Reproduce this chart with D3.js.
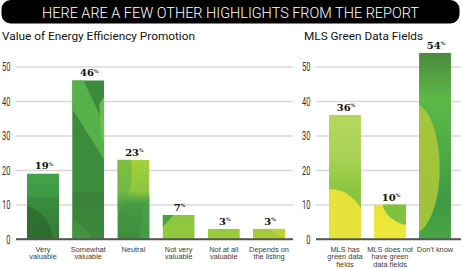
<!DOCTYPE html>
<html><head><meta charset="utf-8">
<script src="https://cdn.jsdelivr.net/npm/d3@7"></script>
<style>
html,body{margin:0;padding:0;background:#fff;}
svg{display:block;}
</style></head>
<body>
<svg id="c" width="461" height="269"></svg>
<script>
// ---- data ----
const bannerText = "HERE ARE A FEW OTHER HIGHLIGHTS FROM THE REPORT";
const leftTitle = "Value of Energy Efficiency Promotion";
const rightTitle = "MLS Green Data Fields";
const leftCategories = ["Very\nvaluable", "Somewhat\nvaluable", "Neutral", "Not very\nvaluable", "Not at all\nvaluable", "Depends on\nthe listing"];
const leftValues = [19, 46, 23, 7, 3, 3];
const rightCategories = ["MLS has\ngreen data\nfields", "MLS does not\nhave green\ndata fields", "Don't know"];
const rightValues = [36, 10, 54];
const yTicks = [0, 10, 20, 30, 40, 50];

// ---- bar styling (relative decoration, not data) ----
const leftStyles = [
  {stops:[["0%","#44a24a"],["35%","#3f9944"],["36%","#3b8c3e"],["100%","#347c37"]],
   shapes:[{t:"ellipse",cx:-0.1,cy:1.05,rx:0.9,ry:0.55,c:"#2c6a2f",o:0.75}]},
  {stops:[["0%","#3c8a3d"],["50%","#3a8e3c"],["70%","#3b8f3d"],["71%","#3a8039"],["100%","#3b8a3c"]],
   shapes:[{t:"poly",p:[[0,0],[0.35,0],[1,0.28],[1,0.5],[0,0.18]],c:"#5cb84a",o:0.85},
           {t:"poly",p:[[0.85,0.15],[1,0.1],[1,0.4],[0.9,0.35]],c:"#6cc24b",o:0.9},
           {t:"ellipse",cx:-0.2,cy:1.1,rx:0.9,ry:0.22,c:"#4a9a45",o:0.6}]},
  {stops:[["0%","#a6d03b"],["40%","#8cc53f"],["55%","#479b42"],["100%","#3d8e3e"]],
   shapes:[{t:"ellipse",cx:-0.1,cy:0.15,rx:0.55,ry:0.5,c:"#5aac45",o:0.5},
           {t:"ellipse",cx:1.1,cy:1.0,rx:0.4,ry:0.55,c:"#46a24a",o:0.7}]},
  {stops:[["0%","#8cc63f"],["100%","#93c83d"]],
   shapes:[{t:"poly",p:[[0,0],[0.35,0],[0,0.5]],c:"#3f9d45",o:0.9}]},
  {stops:[["0%","#9bcb3c"],["100%","#9bcb3c"]], shapes:[]},
  {stops:[["0%","#a5c93a"],["100%","#a9cb38"]],
   shapes:[{t:"poly",p:[[0.5,0],[1,0],[1,1]],c:"#bfd631",o:0.8}]}
];
const rightStyles = [
  {stops:[["0%","#b6d75f"],["35%","#a8d255"],["60%","#8cc63f"],["100%","#8cc63f"]],
   shapes:[{t:"ellipse",cx:0.1,cy:1.35,rx:1.5,ry:0.75,c:"#e6e33b",o:1}]},
  {stops:[["0%","#e9e43a"],["100%","#eee83a"]],
   shapes:[{t:"ellipse",cx:1.15,cy:-0.15,rx:0.9,ry:0.75,c:"#7fc242",o:1}]},
  {stops:[["0%","#4a8a3c"],["25%","#5db847"],["55%","#4caa44"],["80%","#3e9a44"],["100%","#4aa744"]],
   shapes:[{t:"ellipse",cx:-0.2,cy:0.62,rx:0.85,ry:0.35,c:"#b2c93a",o:0.85},
           {t:"ellipse",cx:0.0,cy:1.05,rx:0.25,ry:0.04,c:"#e4e23a",o:1}]}
];

// ---- layout ----
const svg = d3.select("#c");
const defs = svg.append("defs");
const y = d3.scaleLinear().domain([0, 50]).range([239, 66.5]);

// banner
svg.append("rect").attr("x",1.5).attr("y",0).attr("width",458).attr("height",23.5)
  .attr("rx",9).attr("ry",9).attr("fill","#000");
svg.append("text").attr("x",230.5).attr("y",18.3).attr("text-anchor","middle")
  .attr("fill","#fff").attr("font-family","Roboto, 'DejaVu Sans', sans-serif").attr("font-weight",300)
  .attr("font-size",14.5).attr("textLength",377).attr("lengthAdjust","spacingAndGlyphs")
  .text(bannerText);

function drawPanel(opts){
  const {cats, vals, styles, gx0, gx1, bandRange, labelX, title, titleX, titleLen, id} = opts;
  const x = d3.scaleBand().domain(cats).range(bandRange).paddingInner(0.29).paddingOuter(0.145);
  const g = svg.append("g");
  // title
  g.append("text").attr("x",titleX).attr("y",40).attr("font-family","Roboto, 'DejaVu Sans', sans-serif")
    .attr("font-weight",400).attr("font-size",11.2).attr("fill","#111")
    .attr("textLength",titleLen).attr("lengthAdjust","spacingAndGlyphs").text(title);
  // gridlines
  const ax = d3.axisLeft(y).tickValues(yTicks).tickSize(-(gx1-gx0)).tickPadding(gx0-labelX);
  const axg = g.append("g").attr("transform",`translate(${gx0},0)`).call(ax);
  axg.select(".domain").remove();
  axg.selectAll(".tick line").attr("stroke","#d9d9d9").attr("stroke-width",1.6);
  axg.selectAll(".tick text").attr("font-family","Roboto, 'DejaVu Sans', sans-serif").attr("font-weight",400)
    .attr("font-size",12.5).attr("fill","#333")
    .attr("textLength",d=>String(d).length*4.2).attr("lengthAdjust","spacingAndGlyphs");
  axg.selectAll(".tick").filter(d=>d===0).select("line").attr("stroke","#555").attr("stroke-width",1.5);

  // bars
  cats.forEach((c,i)=>{
    const bx = x(c), bw = x.bandwidth(), by = y(vals[i]), bh = y(0)-y(vals[i]);
    const st = styles[i];
    const gid = id+"g"+i, cid = id+"c"+i;
    const lg = defs.append("linearGradient").attr("id",gid).attr("x1",0).attr("y1",0).attr("x2",0).attr("y2",1);
    st.stops.forEach(s=>lg.append("stop").attr("offset",s[0]).attr("stop-color",s[1]));
    defs.append("clipPath").attr("id",cid).append("rect").attr("x",bx).attr("y",by).attr("width",bw).attr("height",bh);
    const bg = g.append("g").attr("clip-path",`url(#${cid})`);
    bg.append("rect").attr("x",bx).attr("y",by).attr("width",bw).attr("height",bh).attr("fill",`url(#${gid})`);
    st.shapes.forEach(s=>{
      if(s.t==="ellipse"){
        bg.append("ellipse").attr("cx",bx+s.cx*bw).attr("cy",by+s.cy*bh).attr("rx",s.rx*bw).attr("ry",s.ry*bh)
          .attr("fill",s.c).attr("opacity",s.o);
      } else {
        bg.append("polygon").attr("points",s.p.map(p=>[bx+p[0]*bw,by+p[1]*bh].join(",")).join(" "))
          .attr("fill",s.c).attr("opacity",s.o);
      }
    });
    // value label
    const t = g.append("text").attr("x",bx+bw/2+1).attr("y",by-4).attr("text-anchor","middle")
      .attr("font-family","'DejaVu Serif', serif").attr("font-weight","bold").attr("fill","#111");
    t.append("tspan").attr("font-size",10).text(vals[i]);
    t.append("tspan").attr("font-size",4.8).attr("dy",-3.8).text("%");
    // category label
    const lines = c.split("\n");
    const ct = g.append("text").attr("text-anchor","middle").attr("font-family","'Liberation Sans', Arial, sans-serif")
      .attr("font-size",7.4).attr("fill","#3a3a3a");
    lines.forEach((ln,k)=>ct.append("tspan").attr("x",bx+bw/2).attr("y",251.5+k*7.5).text(ln));
  });
  // baseline
  g.append("line").attr("x1",gx0).attr("x2",gx1).attr("y1",y(0)).attr("y2",y(0)).attr("stroke","#555").attr("stroke-width",1.5);
}

drawPanel({cats:leftCategories, vals:leftValues, styles:leftStyles, gx0:16, gx1:293,
  bandRange:[20.4,291.6], labelX:10.5, title:leftTitle, titleX:2, titleLen:193, id:"L"});
drawPanel({cats:rightCategories, vals:rightValues, styles:rightStyles, gx0:316, gx1:461,
  bandRange:[322.5,457.5], labelX:310.5, title:rightTitle, titleX:304, titleLen:119, id:"R"});
</script>
</body></html>
